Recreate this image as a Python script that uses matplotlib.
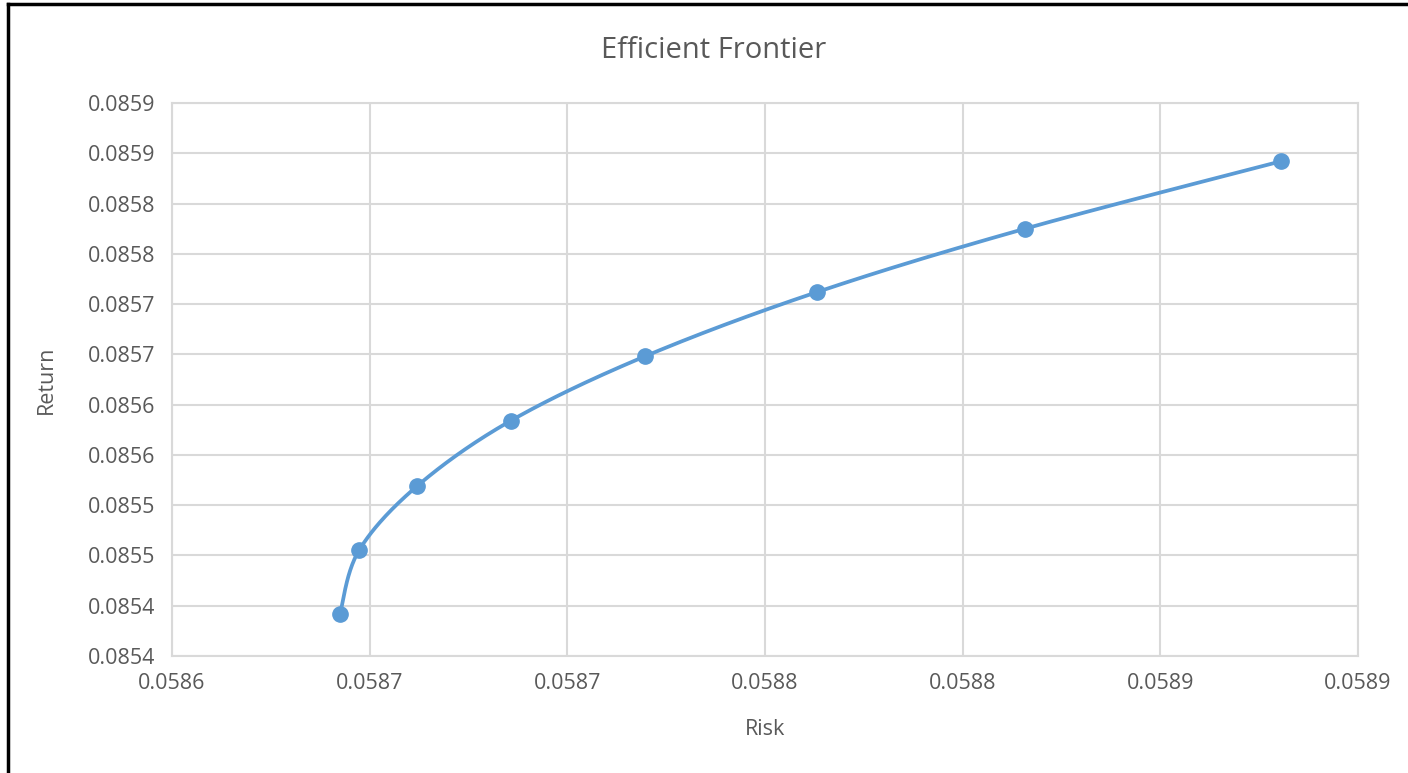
import numpy as np
import matplotlib.pyplot as plt
from matplotlib.lines import Line2D

# data
risk = [0.0586425, 0.0586473, 0.0586620, 0.0586857, 0.0587196, 0.0587632, 0.0588158, 0.0588805]
ret = [0.085392, 0.085455, 0.085519, 0.085584, 0.085648, 0.085712, 0.085775, 0.085842]

x_ticks = [0.05860, 0.05865, 0.05870, 0.05875, 0.05880, 0.05885, 0.05890]
x_tick_labels = ['0.0586', '0.0587', '0.0587', '0.0588', '0.0588', '0.0589', '0.0589']
y_ticks = [0.08535, 0.08540, 0.08545, 0.08550, 0.08555, 0.08560,
           0.08565, 0.08570, 0.08575, 0.08580, 0.08585, 0.08590]
y_tick_labels = ['0.0854', '0.0854', '0.0855', '0.0855', '0.0856', '0.0856',
                 '0.0857', '0.0857', '0.0858', '0.0858', '0.0859', '0.0859']

plt.rcParams['font.family'] = ['Open Sans', 'DejaVu Sans']

line_col = '#5b9bd5'
text_col = '#595959'
grid_col = '#d9d9d9'


def smooth(xs, ys, xr, yr, n=40):
    # excel style smoothed line (catmull-rom bezier), done in axes units
    px = (np.array(xs) - xr[0]) / (xr[1] - xr[0])
    py = (np.array(ys) - yr[0]) / (yr[1] - yr[0])
    pts = np.column_stack([px, py])
    out = []
    for i in range(len(pts) - 1):
        p0 = pts[max(i - 1, 0)]
        p1 = pts[i]
        p2 = pts[i + 1]
        p3 = pts[min(i + 2, len(pts) - 1)]
        c1 = p1 + (p2 - p0) / 6
        c2 = p2 - (p3 - p1) / 6
        t = np.linspace(0, 1, n)[:, None]
        seg = ((1 - t) ** 3) * p1 + 3 * ((1 - t) ** 2) * t * c1 + 3 * (1 - t) * t ** 2 * c2 + t ** 3 * p2
        out.append(seg if i == 0 else seg[1:])
    out = np.vstack(out)
    return out[:, 0] * (xr[1] - xr[0]) + xr[0], out[:, 1] * (yr[1] - yr[0]) + yr[0]


fig = plt.figure(figsize=(14.08, 7.73), dpi=100)
ax = fig.add_axes([172 / 1408, 1 - 656 / 773, (1358 - 172) / 1408, (656 - 103) / 773])

xr = (x_ticks[0], x_ticks[-1])
yr = (y_ticks[0], y_ticks[-1])
sx, sy = smooth(risk, ret, xr, yr)
ax.plot(sx, sy, color=line_col, lw=2.7, solid_capstyle='round', zorder=3)
ax.plot(risk, ret, 'o', color=line_col, ms=11, zorder=4)

ax.set_xlim(xr)
ax.set_ylim(yr)
ax.set_xticks(x_ticks)
ax.set_xticklabels(x_tick_labels)
ax.set_yticks(y_ticks)
ax.set_yticklabels(y_tick_labels)
ax.tick_params(length=0, labelsize=15.5, labelcolor=text_col, pad=12)
ax.grid(True, color=grid_col, lw=1.5)
ax.set_axisbelow(True)
for s in ax.spines.values():
    s.set_color(grid_col)
    s.set_linewidth(1.5)

ax.set_xlabel('Risk', fontsize=15.5, color=text_col, labelpad=18)
ax.set_ylabel('Return', fontsize=15.5, color=text_col, labelpad=22)
fig.text(714 / 1408, 1 - 51 / 773, 'Efficient Frontier', fontsize=21, color=text_col,
         ha='center', va='center')

# dark frame (top and left edges visible)
fig.add_artist(Line2D([8 / 1408, 8 / 1408], [0, 1 - 4 / 773], color='black', lw=2.5,
                      transform=fig.transFigure))
fig.add_artist(Line2D([8 / 1408, 1], [1 - 4 / 773, 1 - 4 / 773], color='black', lw=2.5,
                      transform=fig.transFigure))

fig.savefig('out.png', dpi=100)
